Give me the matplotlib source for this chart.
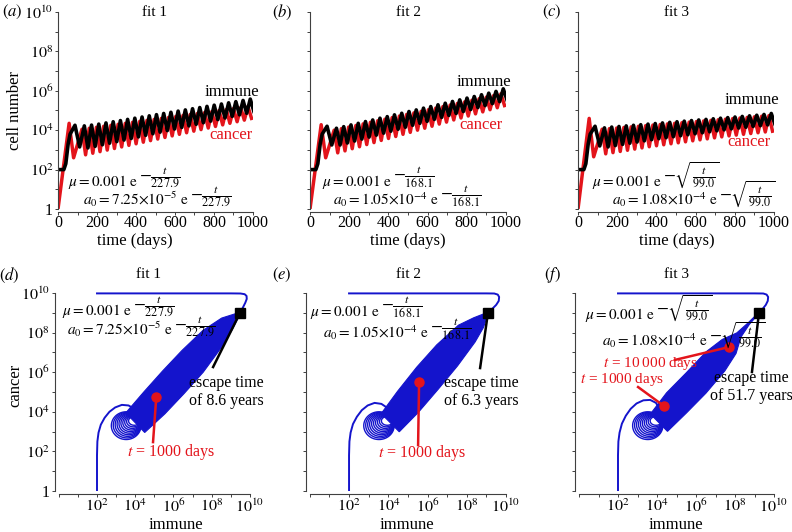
import numpy as np
import matplotlib
matplotlib.use("Agg")
import matplotlib.pyplot as plt
from matplotlib.ticker import FixedLocator, FuncFormatter, MultipleLocator, NullLocator

plt.rcParams["font.family"] = ["Liberation Serif", "DejaVu Serif"]
plt.rcParams["mathtext.fontset"] = "stix"

RED = "#e3141b"
BLUE = "#1414cc"
W, H = 792, 532

# ---------------- top row: time courses (log10 values) ----------------
# turning points of each oscillation cycle
imm_start_t = [0, 30, 40, 52, 62]
imm_start_v = [2.0, 2.0, 2.3, 3.3, 3.8]
imm_peak_t = [87] + [98 + 37 * j for j in range(1, 25)]
imm_trough_t = [111] + [116.5 + 37 * j for j in range(1, 25)]
can_start_t = [0]
can_start_v = [0.0]
can_peak_t = [57] + [86 + 37 * j for j in range(1, 25)]
can_trough_t = [80] + [104.5 + 37 * j for j in range(1, 25)]

imm_pk_a = [4.25, 4.22, 4.26, 4.31, 4.37, 4.43, 4.49, 4.55, 4.61, 4.67, 4.73, 4.79, 4.85,
            4.91, 4.97, 5.03, 5.09, 5.15, 5.21, 5.27, 5.33, 5.39, 5.45, 5.51, 5.58]
imm_tr_a = [3.15, 3.10, 3.18, 3.26, 3.34, 3.42, 3.50, 3.58, 3.66, 3.74, 3.82, 3.90, 3.98,
            4.06, 4.14, 4.22, 4.30, 4.38, 4.46, 4.54, 4.62, 4.70, 4.78, 4.86, 4.95]
can_pk_a = [4.35, 4.05, 4.10, 4.15, 4.20, 4.25, 4.30, 4.35, 4.40, 4.45, 4.50, 4.55, 4.60,
            4.65, 4.70, 4.75, 4.80, 4.85, 4.90, 4.95, 5.00, 5.05, 5.10, 5.15, 5.20]
can_tr_a = [2.60, 2.75, 2.83, 2.91, 2.99, 3.07, 3.15, 3.23, 3.31, 3.39, 3.47, 3.55, 3.63,
            3.71, 3.79, 3.87, 3.95, 4.03, 4.11, 4.19, 4.27, 4.35, 4.43, 4.51, 4.60]

imm_pk_b = [4.20, 4.10, 4.18, 4.27, 4.35, 4.44, 4.52, 4.61, 4.69, 4.78, 4.86, 4.95, 5.03,
            5.12, 5.20, 5.29, 5.37, 5.46, 5.54, 5.63, 5.71, 5.80, 5.88, 5.97, 6.10]
imm_tr_b = [3.25, 3.25, 3.35, 3.45, 3.55, 3.65, 3.75, 3.85, 3.95, 4.05, 4.15, 4.25, 4.35,
            4.45, 4.55, 4.65, 4.75, 4.85, 4.95, 5.05, 5.15, 5.25, 5.35, 5.45, 5.55]
can_pk_b = [4.28, 4.00, 4.08, 4.16, 4.24, 4.32, 4.40, 4.48, 4.56, 4.64, 4.72, 4.80, 4.88,
            4.96, 5.04, 5.12, 5.20, 5.28, 5.36, 5.44, 5.52, 5.60, 5.68, 5.76, 5.85]
can_tr_b = [2.60, 2.85, 2.95, 3.06, 3.16, 3.27, 3.37, 3.48, 3.58, 3.68, 3.79, 3.89, 4.00,
            4.10, 4.20, 4.31, 4.41, 4.52, 4.62, 4.72, 4.83, 4.93, 5.04, 5.14, 5.25]

imm_pk_c = [4.20, 4.12, 4.16, 4.19, 4.22, 4.25, 4.28, 4.31, 4.34, 4.37, 4.40, 4.43, 4.46,
            4.49, 4.52, 4.55, 4.58, 4.61, 4.64, 4.67, 4.70, 4.73, 4.76, 4.80, 4.85]
imm_tr_c = [3.20, 3.15, 3.22, 3.28, 3.34, 3.40, 3.46, 3.52, 3.57, 3.62, 3.67, 3.72, 3.77,
            3.82, 3.87, 3.92, 3.97, 4.02, 4.07, 4.11, 4.15, 4.19, 4.23, 4.27, 4.31]
can_pk_c = [4.60, 4.05, 4.08, 4.11, 4.14, 4.17, 4.20, 4.23, 4.26, 4.29, 4.32, 4.35, 4.38,
            4.41, 4.44, 4.47, 4.50, 4.53, 4.56, 4.59, 4.62, 4.65, 4.68, 4.71, 4.74]
can_tr_c = [2.65, 2.80, 2.86, 2.92, 2.98, 3.04, 3.10, 3.16, 3.21, 3.26, 3.31, 3.36, 3.41,
            3.46, 3.51, 3.56, 3.61, 3.66, 3.71, 3.75, 3.79, 3.83, 3.87, 3.91, 3.95]

# ---------------- bottom row: phase portraits (log10 immune, log10 cancer) ----------------
entry_x = [2.0, 2.0, 2.02, 2.08, 2.2, 2.4, 2.65, 2.95, 3.3, 3.65, 3.95, 4.15]
entry_y_d = [0.0, 1.8, 2.5, 2.95, 3.35, 3.7, 4.0, 4.22, 4.35, 4.32, 4.15, 3.9]
entry_y_e = [0.0, 1.8, 2.5, 2.95, 3.38, 3.75, 4.08, 4.32, 4.45, 4.4, 4.2, 3.95]
entry_y_f = [0.0, 1.8, 2.5, 2.95, 3.4, 3.8, 4.15, 4.42, 4.58, 4.6, 4.45, 4.1]

loop_l = [2.75, 2.85, 2.95, 3.05, 3.15, 3.25, 3.35, 3.45, 3.55, 3.65]
loop_r = [4.30, 4.28, 4.27, 4.26, 4.25, 4.25, 4.25, 4.25, 4.25, 4.25]
loop_b = [2.60, 2.68, 2.76, 2.84, 2.92, 3.00, 3.08, 3.16, 3.24, 3.32]
loop_t = [4.00, 3.97, 3.94, 3.91, 3.88, 3.85, 3.82, 3.80, 3.78, 3.76]

band_cx_d = [4.0, 5.0, 6.0, 7.0, 8.0, 8.8, 9.48]
band_cy_d = [3.45, 4.45, 5.5, 6.55, 7.65, 8.45, 9.0]
band_hw_d = [0.7, 0.78, 0.8, 0.78, 0.65, 0.4, 0.03]
band_cx_e = [4.1, 5.0, 6.0, 7.0, 8.0, 8.6, 9.08]
band_cy_e = [3.45, 4.5, 5.7, 6.85, 7.95, 8.5, 9.0]
band_hw_e = [0.65, 0.75, 0.78, 0.75, 0.6, 0.35, 0.03]
band_cx_f = [4.1, 5.0, 6.0, 7.0, 7.7, 8.2, 8.7, 9.23]
band_cy_f = [3.45, 4.45, 5.45, 6.55, 7.3, 7.88, 8.45, 9.0]
band_hw_f = [0.62, 0.72, 0.72, 0.68, 0.5, 0.15, 0.05, 0.02]

tail_x_d = [9.48, 9.62, 9.75, 9.83, 9.82, 9.72, 9.5, 9.0, 8.0, 2.0]
tail_y_d = [9.0, 9.25, 9.5, 9.7, 9.85, 9.94, 9.975, 9.98, 9.98, 9.98]
tail_x_e = [9.08, 9.3, 9.5, 9.63, 9.65, 9.58, 9.4, 9.0, 2.0]
tail_y_e = [9.0, 9.2, 9.4, 9.6, 9.8, 9.92, 9.975, 9.98, 9.98]
tail_x_f = [9.23, 9.42, 9.58, 9.68, 9.7, 9.62, 9.45, 9.0, 2.0]
tail_y_f = [9.0, 9.2, 9.4, 9.6, 9.8, 9.92, 9.975, 9.98, 9.98]

escape_d, escape_e, escape_f = (9.48, 9.0), (9.08, 9.0), (9.23, 9.0)
dot1000_d, dot1000_e, dot1000_f = (5.1, 4.75), (5.57, 5.5), (4.36, 4.29)
dot10000_f = (7.69, 7.27)

fig = plt.figure(figsize=(W / 100, H / 100), dpi=100)
renderer = fig.canvas.get_renderer()


def px(x, y):
    return x / W, 1 - y / H


def ftext(x, y, s, **kw):
    kw.setdefault("ha", "center")
    kw.setdefault("va", "center")
    return fig.text(*px(x, y), s, **kw)


def formula(x, y, main, expo, size=11):
    # main part on the baseline, the fractional exponent raised after it
    t = ftext(x, y, main, ha="left", va="baseline", fontsize=size)
    bb = t.get_window_extent(renderer)
    fig.text((bb.x1 + 1) / W, 1 - (y - 6) / H, expo, ha="left", va="baseline", fontsize=12.5)


def dec_label(show_one):
    def f(v, pos):
        n = int(round(np.log10(v)))
        if n == 0:
            return "1" if show_one else ""
        if n % 2:
            return ""
        return r"$10^{%d}$" % n
    return f


def style(ax, off_bottom, off_left):
    for s in ("top", "right"):
        ax.spines[s].set_visible(False)
    for s in ("left", "bottom"):
        ax.spines[s].set_linewidth(0.8)
        ax.spines[s].set_color("0.25")
    ax.spines["bottom"].set_position(("outward", off_bottom))
    ax.spines["left"].set_position(("outward", off_left))
    ax.tick_params(which="both", direction="out", length=2.5, width=0.7,
                   color="0.25", labelsize=11.5, pad=1.0)
    ax.set_yscale("log")
    ax.set_ylim(1, 1e10)
    ax.yaxis.set_major_locator(FixedLocator(10.0 ** np.arange(0, 11)))
    ax.yaxis.set_minor_locator(NullLocator())


def zigzag(start_t, start_v, pk_t, pk_v, tr_t, tr_v):
    t = list(start_t)
    v = list(start_v)
    for a, b, c, d in zip(pk_t, pk_v, tr_t, tr_v):
        t += [a, c]
        v += [b, d]
    return np.array(t), 10.0 ** np.array(v)


top_left = [58, 310, 578]
top_w = [195, 196, 196]
top_data = [(imm_pk_a, imm_tr_a, can_pk_a, can_tr_a),
            (imm_pk_b, imm_tr_b, can_pk_b, can_tr_b),
            (imm_pk_c, imm_tr_c, can_pk_c, can_tr_c)]

for i in range(3):
    l, b = px(top_left[i], 209)
    ax = fig.add_axes([l, b, top_w[i] / W, 197 / H])
    style(ax, 2, 0)
    ax.tick_params(axis="x", pad=0.0)
    ax.set_xlim(0, 1000)
    ax.xaxis.set_major_locator(MultipleLocator(200))
    ax.xaxis.set_minor_locator(MultipleLocator(100))
    ax.yaxis.set_major_formatter(FuncFormatter(dec_label(True)))
    if i > 0:
        ax.set_yticklabels([])
    ipk, itr, cpk, ctr = top_data[i]
    tc, vc = zigzag(can_start_t, can_start_v, can_peak_t, cpk, can_trough_t, ctr)
    ti, vi = zigzag(imm_start_t, imm_start_v, imm_peak_t, ipk, imm_trough_t, itr)
    ax.plot(tc, vc, color=RED, lw=2.5, solid_joinstyle="round")
    ax.plot(ti, vi, color="black", lw=2.6, solid_joinstyle="round")

# top-row texts
ftext(12, 12, r"$(\mathit{a})$", fontsize=12)
ftext(282, 12, r"$(\mathit{b})$", fontsize=12)
ftext(552, 12, r"$(\mathit{c})$", fontsize=12)
for x, s in [(155, "fit 1"), (408, "fit 2"), (676, "fit 3")]:
    ftext(x, 12, s, fontsize=11)
ftext(15, 110, "cell number", rotation=90, fontsize=12)
for x in (135, 408, 677):
    ftext(x, 241, "time (days)", fontsize=12)
for xi, yi, xc, yc in [(232, 92, 231, 135), (484, 82, 481, 125), (752, 100, 749, 142)]:
    ftext(xi, yi, "immune", fontsize=12)
    ftext(xc, yc, "cancer", fontsize=12, color=RED)

mu_main = r"$\mu = 0.001\ \mathrm{e}$"
a0_main = [r"$a_0 = 7.25{\times}10^{-5}\ \mathrm{e}$",
           r"$a_0 = 1.05{\times}10^{-4}\ \mathrm{e}$",
           r"$a_0 = 1.08{\times}10^{-4}\ \mathrm{e}$"]
expo = [r"$-\frac{t}{227.9}$", r"$-\frac{t}{168.1}$", r"$-\sqrt{\frac{t}{99.0}}$"]

formula_pos = [(68, 186, 83, 205), (322, 186, 333, 205), (592, 186, 612, 205),
               (62, 315, 67, 335), (310, 316, 323, 338), (585, 319, 602, 346)]
for k, (x1, y1, x2, y2) in enumerate(formula_pos):
    formula(x1, y1, mu_main, expo[k % 3])
    formula(x2, y2, a0_main[k % 3], expo[k % 3])

# ---------------- bottom row ----------------
bot_left = [58.75, 309.8, 579]
bot_w = [191.25, 196.2, 195]
bot_data = [
    (entry_y_d, band_cx_d, band_cy_d, band_hw_d, tail_x_d, tail_y_d, escape_d, [dot1000_d]),
    (entry_y_e, band_cx_e, band_cy_e, band_hw_e, tail_x_e, tail_y_e, escape_e, [dot1000_e]),
    (entry_y_f, band_cx_f, band_cy_f, band_hw_f, tail_x_f, tail_y_f, escape_f, [dot1000_f, dot10000_f]),
]
escape_end = [(8.07, 6.26), (8.68, 6.21), (8.87, 6.01)]
dot_end = [[(4.93, 2.47)], [(5.52, 2.32)], [(3.03, 5.25), (4.92, 6.62)]]

ang = np.linspace(0, 2 * np.pi, 120)
for i in range(3):
    l, b = px(bot_left[i], 491)
    ax = fig.add_axes([l, b, bot_w[i] / W, 198 / H])
    style(ax, 2, 3)
    ax.set_xscale("log")
    ax.set_xlim(1, 1e10)
    ax.xaxis.set_major_locator(FixedLocator(10.0 ** np.arange(0, 11)))
    ax.xaxis.set_minor_locator(NullLocator())
    ax.xaxis.set_major_formatter(FuncFormatter(dec_label(False)))
    ax.yaxis.set_major_formatter(FuncFormatter(dec_label(True)))
    if i > 0:
        ax.set_yticklabels([])
    ey, cx, cy, hw, tx, ty, esc, dots = bot_data[i]
    cx, cy, hw = np.array(cx), np.array(cy), np.array(hw) / np.sqrt(2)
    ux, uy = cx - hw, cy + hw
    lx, ly = cx + hw, cy - hw
    px_ = np.concatenate([ux, lx[::-1]])
    py_ = np.concatenate([uy, ly[::-1]])
    ax.fill(10 ** px_, 10 ** py_, color=BLUE, lw=0.8, zorder=2)
    ax.plot(10 ** np.array(entry_x), 10 ** np.array(ey), color=BLUE, lw=1.4, zorder=2)
    for lo, ro, bo, to in zip(loop_l, loop_r, loop_b, loop_t):
        ex = (lo + ro) / 2 + (ro - lo) / 2 * np.cos(ang)
        eyy = (bo + to) / 2 + (to - bo) / 2 * np.sin(ang)
        ax.plot(10 ** ex, 10 ** eyy, color=BLUE, lw=1.0, zorder=2)
    ax.plot(10 ** np.array(tx), 10 ** np.array(ty), color=BLUE, lw=1.4, zorder=2, clip_on=False)
    # leader lines
    ex_, ey_ = escape_end[i]
    ax.plot([10 ** esc[0], 10 ** ex_], [10 ** esc[1], 10 ** ey_], color="black", lw=1.8, zorder=3)
    ax.plot([10 ** esc[0]], [10 ** esc[1]], marker="s", ms=6.5, color="black", zorder=4)
    for (dx, dy), (qx, qy) in zip(dots, dot_end[i]):
        ax.plot([10 ** dx, 10 ** qx], [10 ** dy, 10 ** qy], color=RED, lw=1.8, zorder=3)
        ax.plot([10 ** dx], [10 ** dy], marker="o", ms=6.5, color=RED, mec=RED, zorder=4)

ftext(9, 275, r"$(\mathit{d})$", fontsize=12)
ftext(282, 275, r"$(\mathit{e})$", fontsize=12)
ftext(552, 275, r"$(\mathit{f})$", fontsize=12)
for x, s in [(148, "fit 1"), (408, "fit 2"), (676, "fit 3")]:
    ftext(x, 275, s, fontsize=11)
ftext(15, 385, "cancer", rotation=90, fontsize=12)
for x in (176, 407, 676):
    ftext(x, 525, "immune", fontsize=12)

for x, y1, yrs in [(226, 383, "8.6"), (481, 383, "6.3"), (751, 378, "51.7")]:
    ftext(x, y1, "escape time", fontsize=11.5)
    ftext(x, y1 + 18, "of %s years" % yrs, fontsize=11.5)
ftext(171, 452, r"$t$ = 1000 days", fontsize=11.5, color=RED)
ftext(422, 453, r"$t$ = 1000 days", fontsize=11.5, color=RED)
ftext(650, 364, "$t$ = 10\u2009000 days", fontsize=11, color=RED)
ftext(622, 380, r"$t$ = 1000 days", fontsize=11, color=RED)

fig.savefig("out.png", dpi=100)
